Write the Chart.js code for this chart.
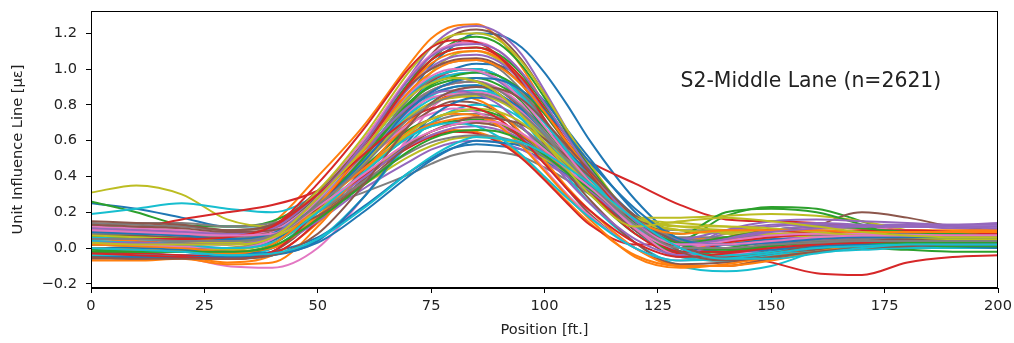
<!DOCTYPE html>
<html>
<head>
<meta charset="utf-8">
<script src="https://cdn.jsdelivr.net/npm/chart.js@4.4.0/dist/chart.umd.min.js"></script>
<style>
html,body{margin:0;padding:0;background:#fff;}
#wrap{width:1014px;height:343px;position:relative;}
</style>
</head>
<body>
<div id="wrap"><canvas id="c" width="1014" height="343"></canvas></div>
<script>
// Sample positions along the span [ft]
const positions = [0,10,20,30,40,50,60,70,75,80,85,90,95,100,105,110,120,130,140,150,160,170,180,190,200];
const xTicks = [0,25,50,75,100,125,150,175,200];
const yTicks = [-0.2,0.0,0.2,0.4,0.6,0.8,1.0,1.2];

// Influence line curves
const s01 = [0.25,0.22,0.17,0.12,0.12,0.25,0.50,0.85,1.02,1.13,1.20,1.19,1.12,0.98,0.80,0.60,0.27,0.04,-0.05,0.00,0.05,0.06,0.05,0.04,0.05];
const s02 = [0.05,0.04,0.03,0.04,0.14,0.40,0.68,1.02,1.17,1.24,1.25,1.17,1.01,0.80,0.58,0.38,0.10,-0.05,-0.06,0.02,0.06,0.08,0.10,0.09,0.08];
const s03 = [0.26,0.20,0.13,0.12,0.15,0.30,0.56,0.90,1.05,1.15,1.18,1.14,1.02,0.84,0.64,0.45,0.17,0.05,0.18,0.23,0.22,0.15,0.07,0.05,0.04];
const s04 = [0.00,0.00,0.02,0.05,0.10,0.28,0.50,0.78,0.88,0.92,0.93,0.88,0.78,0.66,0.56,0.48,0.36,0.24,0.16,0.15,0.14,0.12,0.10,0.08,0.07];
const s05 = [0.08,0.07,0.06,0.06,0.10,0.30,0.60,0.95,1.12,1.22,1.24,1.20,1.08,0.88,0.66,0.45,0.15,0.00,0.05,0.10,0.12,0.13,0.13,0.13,0.14];
const s06 = [0.12,0.11,0.12,0.10,0.12,0.30,0.57,0.92,1.08,1.19,1.22,1.18,1.05,0.86,0.65,0.45,0.15,-0.04,-0.07,0.00,0.12,0.20,0.17,0.12,0.10];
const s07 = [0.00,-0.02,-0.05,-0.10,-0.11,0.00,0.28,0.62,0.78,0.87,0.90,0.88,0.80,0.67,0.53,0.39,0.14,-0.02,-0.05,0.00,0.02,0.03,0.03,0.03,0.03];
const s08 = [0.12,0.14,0.14,0.12,0.14,0.22,0.31,0.41,0.47,0.52,0.54,0.535,0.51,0.45,0.38,0.30,0.15,0.04,0.00,0.00,0.02,0.03,0.04,0.04,0.05];
const s09 = [0.31,0.35,0.30,0.16,0.12,0.25,0.50,0.83,0.98,1.08,1.10,1.05,0.94,0.78,0.60,0.42,0.17,0.17,0.18,0.19,0.18,0.15,0.10,0.08,0.07];
const s10 = [0.19,0.22,0.25,0.22,0.20,0.30,0.50,0.75,0.85,0.90,0.91,0.84,0.72,0.56,0.40,0.25,0.03,-0.10,-0.13,-0.10,-0.02,0.02,0.03,0.03,0.03];
const s11 = [-0.03,-0.03,-0.04,-0.04,-0.02,0.06,0.23,0.42,0.50,0.56,0.58,0.57,0.55,0.49,0.41,0.32,0.13,-0.02,-0.05,-0.02,0.00,0.02,0.03,0.03,0.03];
const s12 = [-0.05,-0.06,-0.05,-0.08,-0.04,0.14,0.38,0.57,0.63,0.66,0.65,0.60,0.51,0.39,0.26,0.14,-0.04,-0.10,-0.10,-0.05,0.00,0.02,0.04,0.04,0.04];
const s13 = [0.05,0.05,0.04,0.04,0.08,0.22,0.42,0.62,0.68,0.71,0.72,0.69,0.63,0.53,0.42,0.30,0.08,-0.03,0.00,0.03,0.03,0.02,0.02,0.02,0.02];
const s14 = [0.08,0.11,0.16,0.20,0.24,0.32,0.48,0.70,0.80,0.86,0.87,0.83,0.74,0.61,0.47,0.34,0.12,-0.02,-0.06,-0.02,0.03,0.05,0.06,0.06,0.06];
const s15 = [0.10,0.09,0.08,0.07,0.10,0.30,0.55,0.85,0.94,0.97,0.98,0.93,0.82,0.67,0.51,0.37,0.12,0.02,0.08,0.12,0.13,0.12,0.12,0.11,0.10];
const s16 = [-0.06,-0.06,-0.05,-0.06,-0.02,0.17,0.43,0.68,0.77,0.82,0.81,0.75,0.63,0.48,0.33,0.19,0.00,-0.09,-0.08,-0.05,-0.01,0.01,0.02,0.03,0.03];
const s17 = [0.06,0.05,0.05,0.06,0.10,0.28,0.52,0.80,0.88,0.92,0.93,0.89,0.80,0.66,0.50,0.36,0.12,0.00,0.05,0.08,0.09,0.08,0.07,0.06,0.06];
const s18 = [0.14,0.13,0.12,0.10,0.13,0.30,0.58,0.90,1.00,1.04,1.05,1.00,0.88,0.72,0.55,0.40,0.15,0.10,0.10,0.10,0.10,0.09,0.08,0.08,0.08];
const s19 = [0.00,0.00,-0.01,0.00,0.05,0.20,0.40,0.58,0.65,0.69,0.70,0.68,0.62,0.53,0.43,0.33,0.16,0.10,0.08,0.07,0.06,0.06,0.05,0.05,0.05];
const s20 = [0.03,0.02,0.02,0.03,0.07,0.25,0.48,0.74,0.83,0.87,0.88,0.85,0.77,0.64,0.50,0.36,0.10,-0.05,-0.04,0.00,0.02,0.02,0.02,0.01,0.01];
const s21 = [0.02,0.02,0.01,0.00,0.04,0.22,0.48,0.80,0.93,1.00,1.03,1.02,0.95,0.82,0.66,0.50,0.20,0.00,-0.04,0.00,0.06,0.09,0.09,0.08,0.07];
const s22 = [0.07,0.06,0.05,0.04,0.07,0.28,0.56,0.90,1.03,1.09,1.10,1.06,0.95,0.78,0.60,0.43,0.16,0.05,0.05,0.07,0.08,0.10,0.10,0.10,0.10];
const s23 = [0.12,0.11,0.09,0.06,0.08,0.25,0.45,0.66,0.72,0.76,0.77,0.74,0.67,0.56,0.44,0.32,0.10,-0.02,-0.02,0.00,0.00,0.00,-0.01,-0.02,-0.02];
const s24 = [-0.02,-0.03,-0.04,-0.05,-0.03,0.15,0.45,0.80,0.93,0.99,1.00,0.96,0.86,0.71,0.55,0.40,0.13,0.00,-0.03,-0.08,-0.14,-0.15,-0.08,-0.05,-0.04];
const s25 = [0.00,-0.01,-0.02,-0.03,0.00,0.15,0.33,0.48,0.55,0.59,0.60,0.59,0.55,0.48,0.40,0.31,0.13,0.00,0.02,0.05,0.06,0.06,0.06,0.06,0.06];
const s26 = [0.15,0.14,0.13,0.10,0.13,0.32,0.58,0.86,0.93,0.95,0.93,0.86,0.74,0.58,0.42,0.27,0.03,-0.10,-0.10,-0.06,-0.02,0.00,0.01,0.01,0.02];
const s27 = [0.04,0.03,0.03,0.03,0.08,0.30,0.60,0.95,1.08,1.14,1.15,1.10,0.98,0.80,0.61,0.43,0.15,0.03,0.06,0.10,0.11,0.11,0.10,0.09,0.09];
const s28 = [0.10,0.10,0.09,0.08,0.10,0.25,0.44,0.63,0.70,0.74,0.75,0.73,0.67,0.57,0.46,0.35,0.14,0.05,0.04,0.04,0.05,0.05,0.05,0.05,0.05];
const s29 = [0.09,0.08,0.07,0.06,0.10,0.32,0.62,0.98,1.12,1.19,1.20,1.16,1.04,0.86,0.66,0.47,0.18,0.14,0.12,0.10,0.08,0.07,0.06,0.06,0.06];
const s30 = [-0.04,-0.04,-0.05,-0.06,-0.04,0.05,0.28,0.58,0.70,0.77,0.80,0.79,0.72,0.61,0.48,0.36,0.12,-0.04,-0.06,-0.04,-0.02,-0.01,0.00,0.00,0.00];
const s31 = [0.10,0.09,0.08,0.06,0.08,0.27,0.50,0.77,0.86,0.90,0.91,0.86,0.77,0.63,0.49,0.35,0.10,-0.02,0.02,0.05,0.04,0.03,0.02,0.01,0.00];
const s32 = [-0.07,-0.07,-0.06,-0.09,-0.08,0.12,0.42,0.70,0.80,0.85,0.83,0.76,0.64,0.49,0.34,0.21,0.00,-0.10,-0.10,-0.07,-0.02,0.02,0.05,0.08,0.08];
const s33 = [0.02,0.02,0.02,0.03,0.08,0.30,0.58,0.92,1.05,1.11,1.12,1.08,0.97,0.80,0.62,0.45,0.17,0.08,0.20,0.22,0.20,0.13,0.05,0.02,0.01];
const s34 = [0.03,0.03,0.03,0.02,0.06,0.22,0.40,0.56,0.62,0.65,0.64,0.59,0.50,0.38,0.25,0.13,0.02,0.02,0.06,0.10,0.08,0.04,0.02,0.02,0.02];
const s35 = [0.05,0.05,0.04,0.04,0.08,0.28,0.56,0.89,1.01,1.07,1.08,1.04,0.93,0.77,0.59,0.42,0.14,0.00,0.10,0.15,0.16,0.15,0.14,0.13,0.13];
const s36 = [0.00,-0.01,-0.02,-0.03,0.00,0.17,0.38,0.58,0.65,0.69,0.70,0.68,0.62,0.52,0.42,0.31,0.10,-0.04,-0.05,-0.03,0.00,0.01,0.02,0.02,0.02];
const s37 = [0.08,0.07,0.06,0.05,0.09,0.27,0.48,0.69,0.75,0.78,0.76,0.69,0.58,0.44,0.30,0.18,0.00,-0.07,-0.04,0.00,0.03,0.04,0.05,0.05,0.05];
const s38 = [0.04,0.03,0.03,0.03,0.07,0.26,0.52,0.83,0.94,0.99,1.00,0.96,0.86,0.71,0.55,0.40,0.15,0.06,0.06,0.07,0.07,0.07,0.06,0.06,0.06];
const s39 = [0.02,0.01,0.00,-0.01,0.03,0.18,0.35,0.51,0.57,0.61,0.62,0.61,0.57,0.50,0.42,0.34,0.17,0.12,0.10,0.08,0.06,0.05,0.04,0.04,0.04];
const s40 = [0.00,-0.01,-0.02,-0.04,0.00,0.20,0.48,0.80,0.92,0.97,0.98,0.94,0.84,0.70,0.54,0.39,0.12,-0.05,-0.07,-0.04,-0.02,0.00,0.01,0.02,0.02];
const s41 = [-0.05,-0.05,-0.05,-0.05,-0.04,0.04,0.28,0.60,0.73,0.81,0.84,0.83,0.78,0.67,0.54,0.42,0.18,0.00,-0.06,-0.03,0.00,0.02,0.03,0.03,0.03];
const s42 = [0.10,0.09,0.08,0.06,0.08,0.24,0.44,0.63,0.69,0.72,0.73,0.70,0.64,0.54,0.43,0.33,0.12,0.00,0.03,0.06,0.08,0.09,0.09,0.08,0.08];
const s43 = [-0.02,-0.02,-0.02,-0.02,0.02,0.22,0.50,0.81,0.90,0.94,0.95,0.91,0.82,0.67,0.52,0.38,0.12,-0.03,-0.02,0.01,0.02,0.02,0.02,0.01,0.01];
const s44 = [0.06,0.05,0.05,0.06,0.12,0.36,0.66,1.00,1.12,1.16,1.15,1.07,0.92,0.72,0.51,0.33,0.08,-0.03,0.03,0.06,0.08,0.10,0.10,0.09,0.08];
const s45 = [0.06,0.05,0.04,0.03,0.06,0.21,0.39,0.57,0.63,0.67,0.68,0.66,0.61,0.52,0.42,0.32,0.13,0.05,0.10,0.13,0.14,0.13,0.12,0.12,0.11];
const s46 = [0.08,0.07,0.06,0.06,0.10,0.30,0.58,0.90,1.00,1.05,1.06,1.02,0.91,0.75,0.58,0.42,0.14,-0.02,-0.05,-0.02,0.02,0.04,0.05,0.05,0.05];
const s47 = [0.12,0.11,0.10,0.08,0.10,0.27,0.50,0.76,0.84,0.86,0.87,0.84,0.76,0.63,0.49,0.36,0.11,-0.04,-0.04,0.00,0.04,0.06,0.06,0.06,0.06];
const s48 = [0.02,0.01,0.00,0.00,0.05,0.24,0.50,0.79,0.88,0.92,0.93,0.88,0.79,0.65,0.50,0.37,0.13,0.02,0.02,0.03,0.04,0.04,0.04,0.04,0.04];
const s49 = [0.05,0.05,0.04,0.03,0.06,0.24,0.47,0.73,0.81,0.84,0.85,0.82,0.74,0.62,0.49,0.37,0.16,0.10,0.09,0.08,0.08,0.07,0.06,0.06,0.06];
const s50 = [0.06,0.05,0.04,0.04,0.08,0.27,0.54,0.85,0.95,0.99,1.00,0.96,0.85,0.70,0.54,0.39,0.12,-0.02,-0.04,-0.02,0.01,0.02,0.03,0.03,0.03];
const s51 = [0.00,0.00,-0.01,-0.02,-0.03,0.03,0.20,0.40,0.49,0.56,0.60,0.59,0.57,0.51,0.43,0.35,0.17,0.03,-0.02,-0.01,0.01,0.02,0.02,0.02,0.02];
const s52 = [0.02,0.01,0.00,-0.02,0.00,0.18,0.42,0.65,0.72,0.75,0.74,0.68,0.57,0.43,0.29,0.16,-0.05,-0.11,-0.09,-0.05,-0.02,0.00,0.02,0.03,0.03];
const s53 = [0.07,0.06,0.05,0.04,0.07,0.24,0.50,0.80,0.91,0.96,0.98,0.96,0.88,0.75,0.59,0.44,0.16,0.03,0.06,0.10,0.12,0.11,0.09,0.08,0.07];
const s54 = [-0.03,-0.04,-0.05,-0.06,-0.02,0.22,0.55,0.91,1.05,1.11,1.12,1.07,0.95,0.78,0.59,0.42,0.14,-0.02,-0.02,0.02,0.04,0.05,0.06,0.07,0.07];
const s55 = [0.11,0.10,0.09,0.08,0.11,0.30,0.54,0.79,0.86,0.88,0.86,0.80,0.68,0.53,0.38,0.25,0.05,-0.04,0.05,0.10,0.12,0.12,0.12,0.12,0.12];
const s56 = [0.13,0.12,0.11,0.09,0.10,0.18,0.36,0.57,0.65,0.70,0.73,0.72,0.69,0.61,0.51,0.40,0.18,0.02,-0.06,-0.03,0.02,0.04,0.05,0.05,0.05];
const s57 = [0.03,0.02,0.01,0.00,0.05,0.27,0.55,0.86,0.96,1.00,0.99,0.94,0.83,0.68,0.52,0.37,0.11,0.00,0.04,0.07,0.08,0.08,0.07,0.07,0.07];
const s58 = [0.08,0.08,0.07,0.06,0.08,0.20,0.37,0.53,0.59,0.62,0.63,0.62,0.58,0.51,0.43,0.34,0.16,0.05,0.02,0.03,0.04,0.05,0.06,0.06,0.06];
const s59 = [0.07,0.06,0.05,0.04,0.06,0.21,0.42,0.64,0.72,0.76,0.78,0.76,0.70,0.59,0.47,0.36,0.17,0.12,0.12,0.11,0.09,0.07,0.06,0.05,0.05];
const s60 = [0.04,0.03,0.02,0.00,0.03,0.20,0.42,0.62,0.68,0.70,0.68,0.62,0.52,0.40,0.28,0.17,0.00,-0.07,-0.06,-0.03,0.00,0.01,0.02,0.02,0.02];
const s61 = [0.09,0.08,0.07,0.05,0.08,0.24,0.48,0.77,0.87,0.93,0.95,0.94,0.88,0.77,0.63,0.48,0.22,0.05,0.02,0.03,0.05,0.06,0.06,0.06,0.06];
const s62 = [0.00,-0.01,-0.02,-0.03,0.02,0.24,0.54,0.87,0.98,1.04,1.05,1.01,0.91,0.76,0.59,0.43,0.16,0.08,0.10,0.10,0.10,0.09,0.09,0.09,0.09];
const s63 = [-0.01,-0.02,-0.02,-0.02,0.01,0.16,0.35,0.54,0.61,0.65,0.66,0.65,0.60,0.52,0.42,0.33,0.14,0.02,-0.01,0.01,0.03,0.03,0.03,0.03,0.03];
const s64 = [0.05,0.05,0.05,0.06,0.12,0.30,0.52,0.72,0.78,0.80,0.78,0.72,0.61,0.47,0.33,0.21,0.03,-0.05,-0.03,0.00,0.02,0.03,0.04,0.04,0.04];
const s65 = [0.03,0.03,0.02,0.02,0.07,0.28,0.58,0.94,1.07,1.13,1.14,1.10,0.98,0.81,0.62,0.44,0.15,0.02,0.05,0.09,0.11,0.12,0.12,0.12,0.12];
const s66 = [-0.05,-0.06,-0.06,-0.06,-0.04,0.08,0.35,0.68,0.81,0.88,0.90,0.89,0.83,0.71,0.57,0.43,0.17,-0.02,-0.07,-0.05,-0.02,0.00,0.01,0.02,0.02];
const s67 = [0.10,0.09,0.08,0.07,0.08,0.23,0.41,0.59,0.65,0.69,0.71,0.70,0.64,0.55,0.44,0.34,0.13,0.02,0.02,0.04,0.06,0.07,0.07,0.07,0.07];
const s68 = [0.05,0.05,0.04,0.04,0.07,0.24,0.46,0.72,0.80,0.85,0.86,0.83,0.75,0.63,0.49,0.36,0.13,0.00,0.00,0.02,0.03,0.04,0.04,0.04,0.04];
const s69 = [0.03,0.02,0.02,0.02,0.06,0.28,0.55,0.84,0.92,0.95,0.93,0.86,0.74,0.59,0.44,0.30,0.12,0.15,0.17,0.15,0.12,0.09,0.07,0.06,0.06];
const s70 = [0.00,-0.01,-0.02,-0.04,-0.03,0.05,0.22,0.42,0.51,0.58,0.62,0.61,0.59,0.53,0.45,0.36,0.16,0.00,-0.06,-0.06,-0.03,0.00,0.02,0.02,0.02];

const seriesList = [s01,s02,s03,s04,s05,s06,s07,s08,s09,s10,s11,s12,s13,s14,s15,s16,s17,s18,s19,s20,
  s21,s22,s23,s24,s25,s26,s27,s28,s29,s30,s31,s32,s33,s34,s35,s36,s37,s38,s39,s40,
  s41,s42,s43,s44,s45,s46,s47,s48,s49,s50,s51,s52,s53,s54,s55,s56,s57,s58,s59,s60,
  s61,s62,s63,s64,s65,s66,s67,s68,s69,s70];

const annotationText = 'S2-Middle Lane (n=2621)';
const xTitle = 'Position [ft.]';
const yTitle = 'Unit Influence Line [\u03bc\u03b5]';

// matplotlib default colour cycle
const palette = ['#1f77b4','#ff7f0e','#2ca02c','#d62728','#9467bd','#8c564b','#e377c2','#7f7f7f','#bcbd22','#17becf'];

const FONT = 'DejaVu Sans';
const TICK_SIZE = 14.6;

const datasets = seriesList.map((vals, i) => ({
  data: positions.map((x, j) => ({x: x, y: vals[j]})),
  borderColor: palette[i % palette.length],
  backgroundColor: palette[i % palette.length],
  borderWidth: 2,
  pointRadius: 0,
  fill: false,
  cubicInterpolationMode: 'monotone',
  order: seriesList.length - i
}));

const framePlugin = {
  id: 'frame',
  beforeDraw(chart) {
    const c = chart.ctx;
    c.save();
    c.fillStyle = '#ffffff';
    c.fillRect(0, 0, chart.width, chart.height);
    c.restore();
  },
  afterDraw(chart) {
    const c = chart.ctx, a = chart.chartArea;
    c.save();
    c.strokeStyle = '#000000';
    c.lineWidth = 1;
    c.strokeRect(Math.round(a.left) + 0.5, Math.round(a.top) + 0.5, Math.round(a.right - a.left) - 1, Math.round(a.bottom - a.top) - 1);
    const sx = chart.scales.x, sy = chart.scales.y;
    c.fillStyle = '#222222';
    c.font = '20.4px "' + FONT + '"';
    c.textAlign = 'left';
    c.textBaseline = 'alphabetic';
    c.fillText(annotationText, sx.getPixelForValue(130), sy.getPixelForValue(0.9));
    c.restore();
  }
};

function zeroPad(s) { s.paddingTop = 0; s.paddingBottom = 0; s.paddingLeft = 0; s.paddingRight = 0; }

new Chart(document.getElementById('c'), {
  type: 'line',
  data: { datasets: datasets },
  plugins: [framePlugin],
  options: {
    responsive: false,
    animation: false,
    events: [],
    layout: { padding: { left: 0, right: 16, top: 11, bottom: 0 } },
    plugins: { legend: { display: false }, tooltip: { enabled: false } },
    scales: {
      x: {
        type: 'linear',
        min: 0, max: 200,
        afterBuildTicks: (s) => { s.ticks = xTicks.map(v => ({value: v})); },
        afterFit: (s) => { s.height = 55; zeroPad(s); },
        grid: { display: true, drawOnChartArea: false, drawTicks: true, tickLength: 5, color: '#000', lineWidth: 1 },
        border: { display: true, color: '#000', width: 1 },
        ticks: { color: '#222', font: { family: FONT, size: TICK_SIZE }, padding: 4, maxRotation: 0, autoSkip: false,
                 callback: (v) => String(v) },
        title: { display: true, text: xTitle, color: '#222', font: { family: FONT, size: TICK_SIZE }, padding: { top: 0, bottom: 4 } }
      },
      y: {
        type: 'linear',
        min: -0.223, max: 1.324,
        afterBuildTicks: (s) => { s.ticks = yTicks.map(v => ({value: v})); },
        afterFit: (s) => { s.width = 91; zeroPad(s); },
        grid: { display: true, drawOnChartArea: false, drawTicks: true, tickLength: 5, color: '#000', lineWidth: 1 },
        border: { display: true, color: '#000', width: 1 },
        ticks: { color: '#222', font: { family: FONT, size: TICK_SIZE }, padding: 9, autoSkip: false,
                 callback: (v) => (Math.round(v * 10) / 10).toFixed(1).replace('-', '\u2212') },
        title: { display: true, text: yTitle, color: '#222', font: { family: FONT, size: TICK_SIZE }, padding: { top: 9, bottom: 0 } }
      }
    }
  }
});
</script>
</body>
</html>
